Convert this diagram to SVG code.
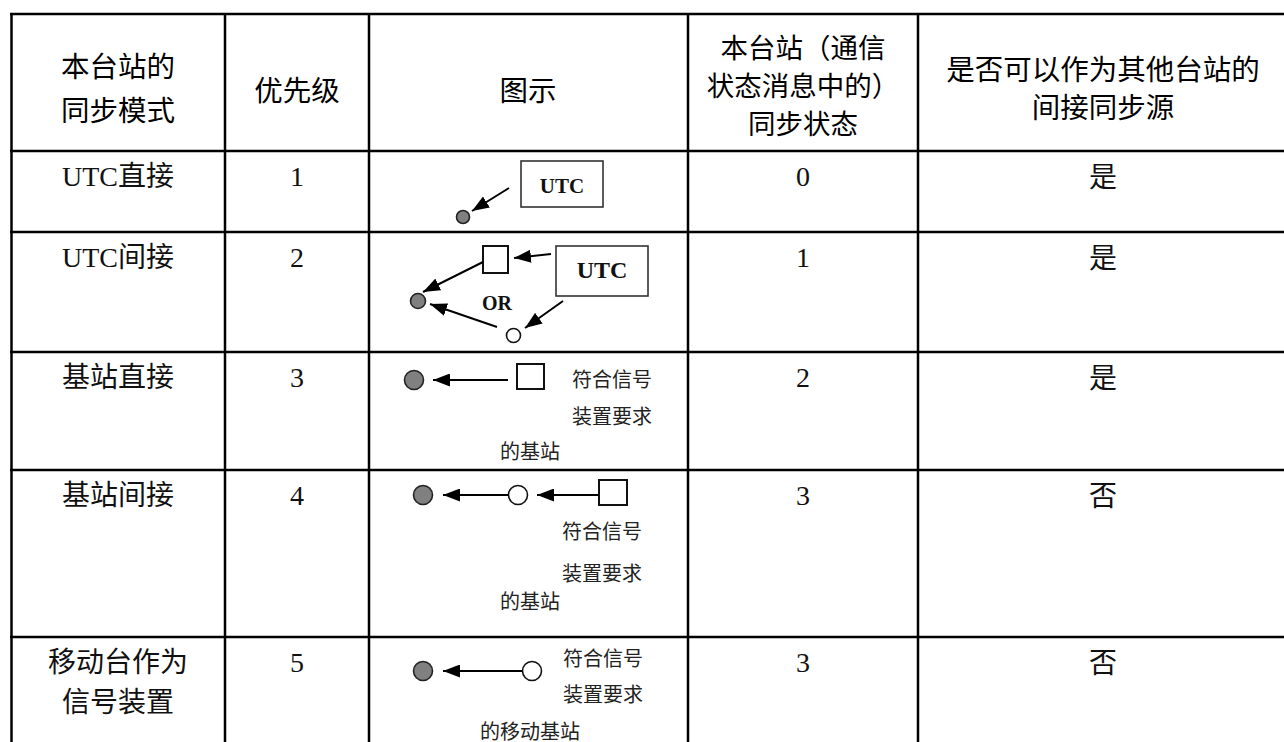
<svg xmlns="http://www.w3.org/2000/svg" width="1284" height="742" viewBox="0 0 1284 742">
<style>
.hd{font-family:"Noto Sans CJK SC","Liberation Sans",sans-serif;font-size:28.5px;fill:#000;text-anchor:middle}
.hs{font-family:"Noto Sans CJK SC","Liberation Sans",sans-serif;font-size:27.5px;fill:#000;text-anchor:middle}
.bd{font-family:"Liberation Serif","Noto Sans CJK SC",serif;font-size:28px;fill:#111;text-anchor:middle}
.sm{font-family:"Liberation Serif","Noto Sans CJK SC",serif;font-size:20px;fill:#222}
.bx{font-family:"Liberation Serif","Times New Roman",serif;font-weight:bold;fill:#111;text-anchor:middle}
.gray{fill:#808080;stroke:#222;stroke-width:1.6}
.wht{fill:#fff;stroke:#111;stroke-width:1.6}
.sq{fill:#fff;stroke:#111;stroke-width:2}
.box{fill:#fff;stroke:#333;stroke-width:1.6}
.ar{stroke:#000;stroke-width:2;fill:none;marker-end:url(#ah)}
.grid line{stroke:#000;stroke-width:2.5}
</style>
<defs>
<marker id="ah" markerUnits="userSpaceOnUse" viewBox="0 0 17 13" markerWidth="17" markerHeight="13" refX="17" refY="6.5" orient="auto">
<path d="M0,0 L17,6.5 L0,13 Z" fill="#000"/>
</marker>
</defs>
<rect width="1284" height="742" fill="#fff"/>
<g id="grid" class="grid">
<line x1="10" y1="14" x2="1284" y2="14"/>
<line x1="10" y1="151" x2="1284" y2="151"/>
<line x1="10" y1="232" x2="1284" y2="232"/>
<line x1="10" y1="352" x2="1284" y2="352"/>
<line x1="10" y1="470" x2="1284" y2="470"/>
<line x1="10" y1="637" x2="1284" y2="637"/>
<line x1="11.5" y1="13" x2="11.5" y2="742"/>
<line x1="225" y1="13" x2="225" y2="742"/>
<line x1="369" y1="13" x2="369" y2="742"/>
<line x1="688" y1="13" x2="688" y2="742"/>
<line x1="918" y1="13" x2="918" y2="742"/>
</g>
<g id="header">
<text class="hd" x="118" y="77">本台站的<tspan x="118" y="121">同步模式</tspan></text>
<text class="hd" x="297" y="101">优先级</text>
<text class="hd" x="528" y="101">图示</text>
<text class="hs" x="803" y="58">本台站（通信<tspan x="803" y="96">状态消息中的）</tspan><tspan x="803" y="134">同步状态</tspan></text>
<text class="hd" x="1103" y="80">是否可以作为其他台站的<tspan x="1103" y="118">间接同步源</tspan></text>
</g>
<g id="row1">
<text class="bd" x="118" y="186">UTC直接</text>
<text class="bd" x="297" y="186">1</text>
<text class="bd" x="803" y="186">0</text>
<text class="bd" x="1103" y="187">是</text>
</g>
<g id="row2">
<text class="bd" x="118" y="267">UTC间接</text>
<text class="bd" x="297" y="267">2</text>
<text class="bd" x="803" y="267">1</text>
<text class="bd" x="1103" y="268">是</text>
</g>
<g id="row3">
<text class="bd" x="118" y="387">基站直接</text>
<text class="bd" x="297" y="387">3</text>
<text class="bd" x="803" y="387">2</text>
<text class="bd" x="1103" y="388">是</text>
</g>
<g id="row4">
<text class="bd" x="118" y="505">基站间接</text>
<text class="bd" x="297" y="505">4</text>
<text class="bd" x="803" y="505">3</text>
<text class="bd" x="1103" y="506">否</text>
</g>
<g id="row5">
<text class="bd" x="118" y="672">移动台作为<tspan x="118" y="712">信号装置</tspan></text>
<text class="bd" x="297" y="672">5</text>
<text class="bd" x="803" y="672">3</text>
<text class="bd" x="1103" y="673">否</text>
</g>
<g id="fig1">
<rect class="box" x="521" y="161" width="82" height="46"/>
<text class="bx" x="562" y="193" font-size="21">UTC</text>
<circle class="gray" cx="463" cy="217" r="6.5"/>
</g>
<g id="fig2">
<rect class="sq" x="483" y="246" width="25" height="27"/>
<rect class="box" x="556" y="246" width="92" height="50"/>
<text class="bx" x="602" y="278" font-size="24">UTC</text>
<text class="bx" x="497" y="310" font-size="20">OR</text>
<circle class="gray" cx="418" cy="301" r="7.5"/>
<circle class="wht" cx="513.5" cy="335.5" r="7"/>
</g>
<g id="fig3">
<circle class="gray" cx="414" cy="380" r="9.5"/>
<rect class="sq" x="517" y="364" width="27" height="25"/>
<text class="sm" x="572" y="387">符合信号</text>
<text class="sm" x="572" y="424">装置要求</text>
<text class="sm" x="500" y="459">的基站</text>
</g>
<g id="fig4">
<circle class="gray" cx="423" cy="495" r="9.5"/>
<circle class="wht" cx="518" cy="495" r="9.5"/>
<rect class="sq" x="599" y="480" width="28" height="25"/>
<text class="sm" x="562" y="539">符合信号</text>
<text class="sm" x="562" y="581">装置要求</text>
<text class="sm" x="500" y="609">的基站</text>
</g>
<g id="fig5">
<circle class="gray" cx="423" cy="671" r="9.5"/>
<circle class="wht" cx="532" cy="671" r="9.5"/>
<text class="sm" x="563" y="666">符合信号</text>
<text class="sm" x="563" y="702">装置要求</text>
<text class="sm" x="480" y="739">的移动基站</text>
</g>
<g id="connectors">
<line class="ar" x1="509" y1="188" x2="472" y2="211"/>
<line class="ar" x1="551" y1="254" x2="514" y2="258"/>
<line class="ar" x1="483" y1="262" x2="423" y2="292"/>
<line class="ar" x1="563" y1="301" x2="525" y2="328"/>
<line class="ar" x1="497" y1="327" x2="430" y2="304"/>
<line class="ar" x1="508" y1="380" x2="433" y2="380"/>
<line class="ar" x1="508.5" y1="495" x2="443" y2="495"/>
<line class="ar" x1="599" y1="495" x2="537" y2="495"/>
<line class="ar" x1="522.5" y1="671" x2="443" y2="671"/>
</g>
</svg>
